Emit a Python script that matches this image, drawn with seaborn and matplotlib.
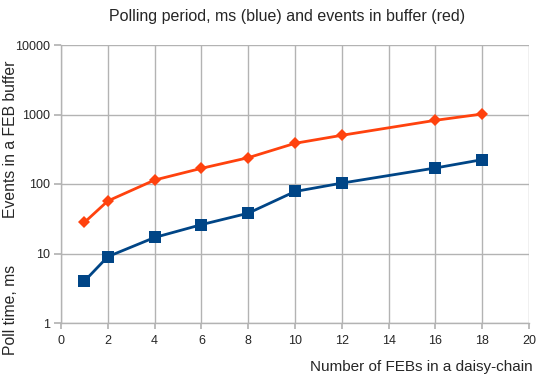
import matplotlib
matplotlib.use("Agg")
import matplotlib.pyplot as plt
import seaborn as sns
import pandas as pd

febs = [1, 2, 4, 6, 8, 10, 12, 16, 18]
poll_ms = [4, 9, 17, 26, 38, 78, 103, 170, 224]
events = [28, 57, 114, 168, 239, 385, 502, 825, 1016]

x_ticks = [0, 2, 4, 6, 8, 10, 12, 14, 16, 18, 20]
y_ticks = [1, 10, 100, 1000, 10000]

sns.set_theme(style="white")
plt.rcParams['font.family'] = ['Liberation Sans', 'DejaVu Sans']

df = pd.DataFrame({"febs": febs, "poll": poll_ms, "events": events})

fig = plt.figure(figsize=(5.4, 3.79), dpi=100)
ax = fig.add_axes([61/540, 1-323/379, (529-61)/540, (323-45)/379])

sns.lineplot(data=df, x="febs", y="events", ax=ax, color="#ff420e", marker="D",
             markersize=6, markeredgewidth=0, linewidth=2)
sns.lineplot(data=df, x="febs", y="poll", ax=ax, color="#004586", marker="s",
             markersize=8, markeredgewidth=0, linewidth=2)

ax.set_yscale("log")
ax.set_ylim(1, 10000)
ax.set_xlim(0, 20)
ax.set_xticks(x_ticks)
ax.set_yticks(y_ticks)
ax.set_yticklabels([str(v) for v in y_ticks])
ax.minorticks_off()
ax.grid(True, color="#b3b3b3", linewidth=1)
ax.set_axisbelow(True)
for s in ["top", "right"]:
    ax.spines[s].set_visible(False)
for s in ["left", "bottom"]:
    ax.spines[s].set_color("#b3b3b3")
    ax.spines[s].set_linewidth(1)
ax.tick_params(axis="y", left=True, length=5, color="#b3b3b3", labelsize=9, pad=3)
ax.tick_params(axis="x", bottom=True, length=4, color="#b3b3b3", labelsize=9, pad=5)
ax.set_xlabel("")
ax.set_ylabel("")

fig.text(287/540, 1-16/379, "Polling period, ms (blue) and events in buffer (red)",
         ha="center", va="center", fontsize=11.5)
fig.text(533/540, 1-367/379, "Number of FEBs in a daisy-chain", ha="right",
         va="center", fontsize=11)
fig.text(11/540, 1-355/379, "Poll time, ms", rotation=90, ha="center",
         va="bottom", fontsize=11.3)
fig.text(11/540, 1-60/379, "Events in a FEB buffer", rotation=90, ha="center",
         va="top", fontsize=11.3)

fig.savefig("out.png", dpi=100)
